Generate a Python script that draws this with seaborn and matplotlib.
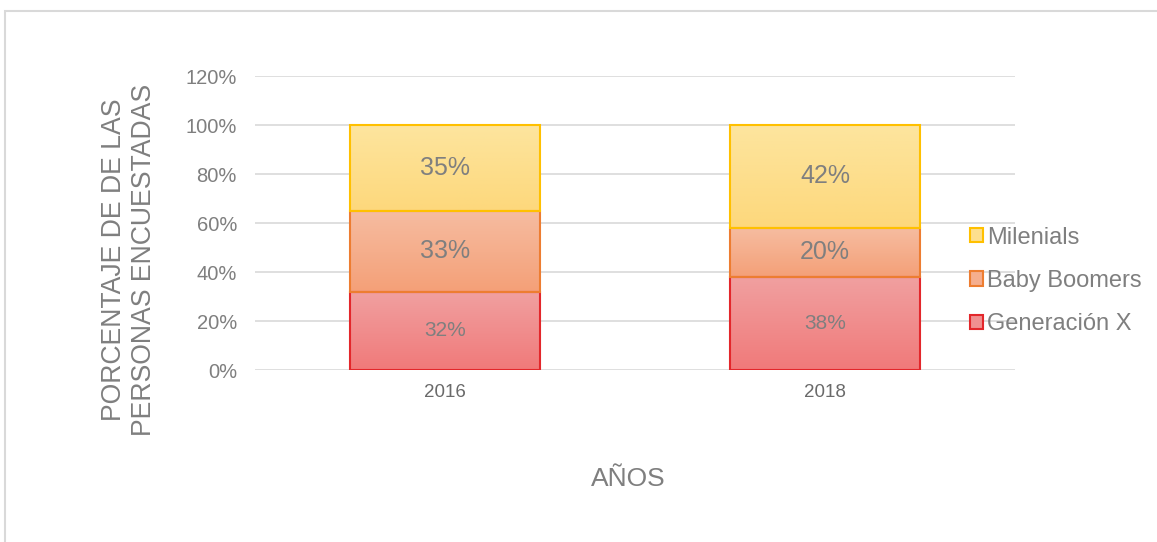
import numpy as np
import pandas as pd
import seaborn as sns
import matplotlib.pyplot as plt
from matplotlib.patches import Rectangle, Patch
from matplotlib.colors import LinearSegmentedColormap

# data
years = ["2016", "2018"]
gen_x = [32, 38]
baby_boomers = [33, 20]
milenials = [35, 42]
series_names = ["Generación X", "Baby Boomers", "Milenials"]
fills = ["#f09090", "#f5ae8e", "#fddf8e"]
tops = ["#f1a0a0", "#f6bca0", "#fde59e"]
bots = ["#f07a7a", "#f4a078", "#fdd87c"]
edges = ["#e3272b", "#ed7d31", "#ffc000"]
label_sizes = [15, 18, 18]
gray = "#7f7f7f"

sns.set_style("white")
plt.rcParams['font.family'] = ['Liberation Sans', 'DejaVu Sans']

fig = plt.figure(figsize=(11.57, 5.42), dpi=100)
ax = fig.add_axes([0.2204, 0.3173, 0.6569, 0.5424])

df = pd.DataFrame({"year": years, "Generación X": gen_x,
                   "Baby Boomers": baby_boomers, "Milenials": milenials})

bottom = np.zeros(len(years))
for k, (name, fc, ec) in enumerate(zip(series_names, fills, edges)):
    vals = df[name].to_numpy()
    n_before = len(ax.patches)
    sns.barplot(x=df["year"], y=vals / 100, bottom=bottom / 100, ax=ax,
                color=fc, edgecolor=ec, linewidth=1.5, width=0.5,
                saturation=1, zorder=3)
    # vertical gradient fill like the original
    cmap = LinearSegmentedColormap.from_list(name, [bots[k], tops[k]])
    for p in ax.patches[n_before:]:
        x0, y0 = p.get_x(), p.get_y()
        w, h = p.get_width(), p.get_height()
        im = ax.imshow(np.linspace(0, 1, 64).reshape(-1, 1), cmap=cmap,
                       extent=[x0, x0 + w, y0, y0 + h], origin="lower",
                       aspect="auto", zorder=3.5)
        im.set_clip_path(p)
        p.set_facecolor("none")
        p.set_zorder(3.6)
    for i, v in enumerate(vals):
        ax.text(i, (bottom[i] + v / 2) / 100, f"{v}%", ha="center", va="center",
                fontsize=label_sizes[k], color=gray, zorder=4)
    bottom += vals

ax.set_ylim(0, 1.2)
ax.set_xlim(-0.5, 1.5)
ax.set_yticks(np.arange(0, 1.21, 0.2))
ax.set_yticklabels([f"{int(round(t * 100))}%" for t in np.arange(0, 1.21, 0.2)])
ax.yaxis.grid(True, color="#d9d9d9", linewidth=1.2, zorder=0)
ax.set_axisbelow(True)
for s in ax.spines.values():
    s.set_visible(False)
ax.tick_params(axis="y", labelsize=14.5, colors=gray, length=0, pad=13)
ax.tick_params(axis="x", labelsize=13.5, colors="#6a6a6a", length=0, pad=10)

ax.set_xlabel("AÑOS", fontsize=19, color=gray)
ax.xaxis.set_label_coords(0.491, -0.33)
ax.set_ylabel("PORCENTAJE DE DE LAS\nPERSONAS ENCUESTADAS", fontsize=19.2,
              color=gray, linespacing=1.2)
ax.yaxis.set_label_coords(-0.129, 0.374)

handles = [Patch(facecolor=f, edgecolor=e, linewidth=1.5) for f, e in zip(fills, edges)]
leg = ax.legend(handles[::-1], series_names[::-1], loc="center left",
                bbox_to_anchor=(0.928, 0.303), borderaxespad=0, frameon=False,
                fontsize=17, handlelength=0.55, handleheight=0.55,
                handletextpad=0.2, labelspacing=0.9, labelcolor=gray)

# chart frame
fig.patches.append(Rectangle((5 / 1157, -0.05), 1.1, 1.05 - 11 / 542,
                             transform=fig.transFigure, fill=False,
                             edgecolor="#d9d9d9", linewidth=1.5))

fig.savefig("out.png", dpi=100)
